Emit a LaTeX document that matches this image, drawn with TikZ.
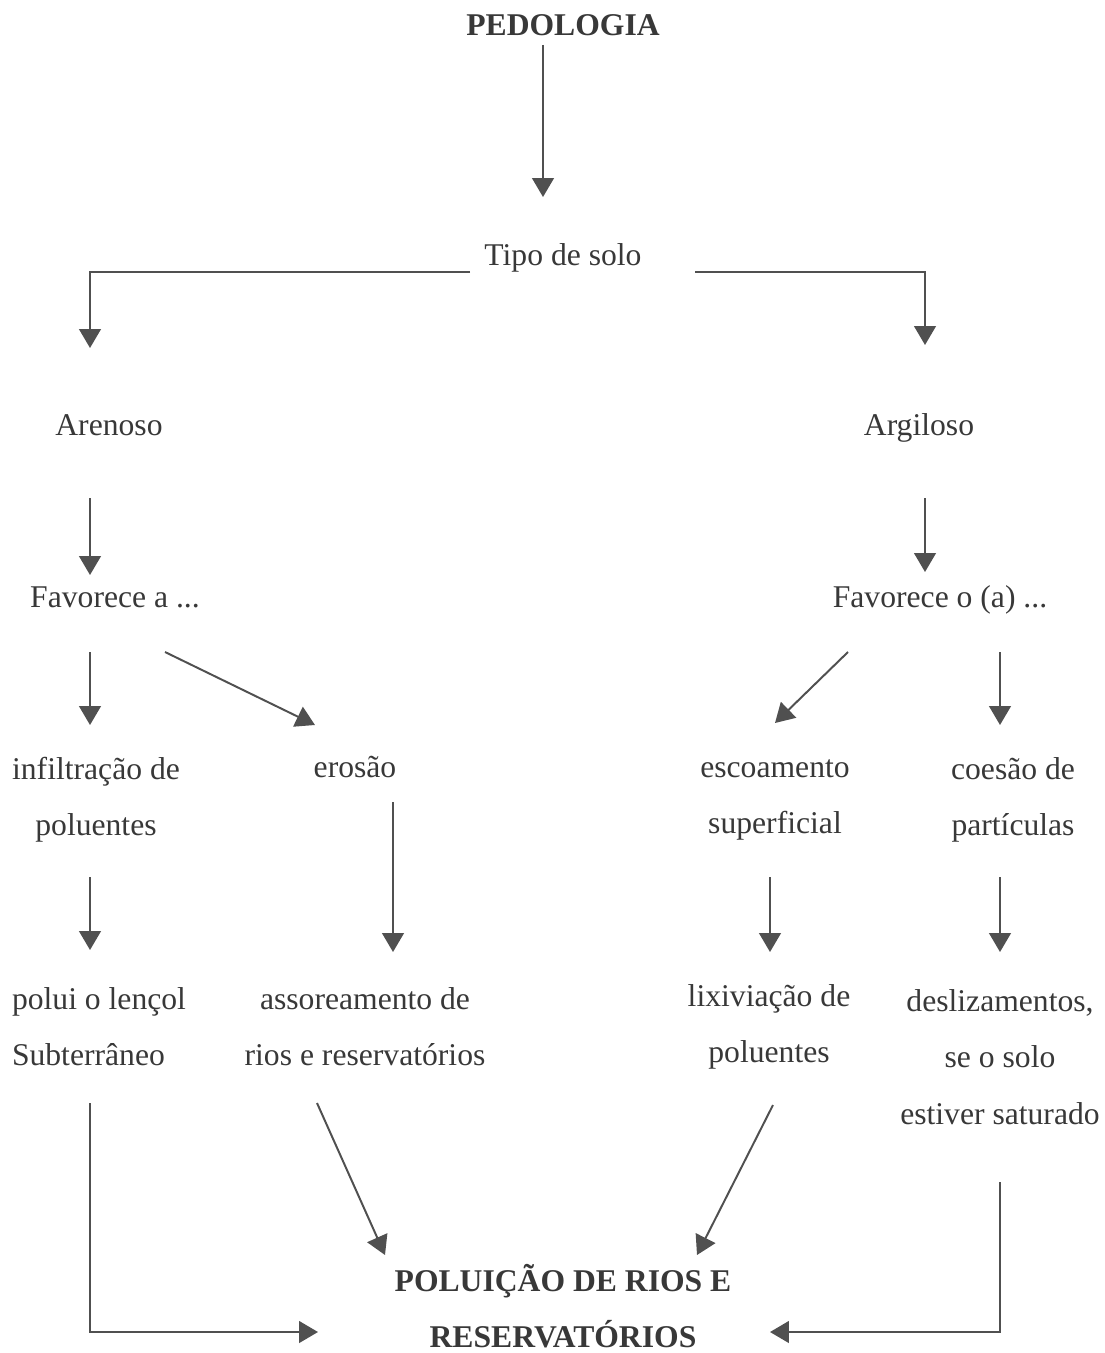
\documentclass[tikz,border=0pt]{standalone}
\usepackage{fontspec}
\setmainfont{Liberation Serif}
\usetikzlibrary{arrows.meta, calc}
\definecolor{inkgray}{HTML}{383838}
\definecolor{linegray}{HTML}{505050}

\begin{document}
\begin{tikzpicture}[x=0.025cm,y=-0.025cm,>={Triangle[length=13.5pt,width=15.5pt]},
    every node/.style={inner sep=0pt, text=inkgray, font=\fontsize{22.5}{40}\selectfont, align=center},
    oneline/.style={text height=15pt, text depth=5pt},
    title/.style={font=\fontsize{22.5}{40}\selectfont\bfseries},
    arr/.style={draw=linegray, line width=1.4pt, ->}]

    \useasboundingbox (0,0) rectangle (1104,1353);

    % levels
    \node[title,oneline] (ped) at (563,28) {PEDOLOGIA};
    \node[oneline] (tipo) at (563,258) {Tipo de solo};
    \node[oneline] (aren) at (109,428) {Arenoso};
    \node[oneline] (argi) at (919,428) {Argiloso};
    \node[oneline] (fava) at (115,600) {Favorece a ...};
    \node[oneline] (favo) at (940,600) {Favorece o (a) ...};

    \node (infil) at (96,800) {infiltração de\\poluentes};
    \node[oneline] (eros) at (355,770) {erosão};
    \node (escoa) at (775,800) {escoamento\\superficial};
    \node (coes) at (1013,800) {coesão de\\partículas};

    \node[align=left] (polui) at (99,1027) {polui o lençol\\Subterrâneo};
    \node (assor) at (365,1027) {assoreamento de\\rios e reservatórios};
    \node (lixi) at (769,1027) {lixiviação de\\poluentes};
    \node (desl) at (1000,1057) {deslizamentos,\\se o solo\\estiver saturado};

    \node[title] (polu) at (563,1306) {POLUIÇÃO DE RIOS E\\RESERVATÓRIOS};

    % connectors
    \draw[arr] ($(ped)+(-20,17)$) -- ($(tipo)+(-20,-61)$);
    \draw[arr] ($(tipo)+(-93,14)$) -| ($(aren)+(-19,-80)$);
    \draw[arr] ($(tipo)+(132,14)$) -| ($(argi)+(6,-83)$);

    \draw[arr] ($(aren)+(-19,70)$) -- ($(fava)+(-25,-25)$);
    \draw[arr] ($(argi)+(6,70)$) -- ($(favo)+(-15,-28)$);

    \draw[arr] ($(fava)+(-25,52)$) -- ($(infil)+(-6,-75)$);
    \draw[arr] ($(fava)+(50,52)$) -- ($(eros)+(-40,-45)$);
    \draw[arr] ($(favo)+(-92,52)$) -- ($(escoa)+(0,-77)$);
    \draw[arr] ($(favo)+(60,52)$) -- ($(coes)+(-13,-75)$);

    \draw[arr] ($(infil)+(-6,77)$) -- ($(polui)+(-9,-77)$);
    \draw[arr] ($(eros)+(38,32)$) -- ($(assor)+(28,-75)$);
    \draw[arr] ($(escoa)+(-5,77)$) -- ($(lixi)+(1,-75)$);
    \draw[arr] ($(coes)+(-13,77)$) -- ($(desl)+(0,-105)$);

    \draw[arr] ($(polui)+(-9,76)$) |- ($(polu)+(-245,26)$);
    \draw[arr] ($(assor)+(-48,76)$) -- ($(polu)+(-178,-51)$);
    \draw[arr] ($(lixi)+(4,78)$) -- ($(polu)+(134,-51)$);
    \draw[arr] ($(desl)+(0,125)$) |- ($(polu)+(207,26)$);
\end{tikzpicture}
\end{document}
